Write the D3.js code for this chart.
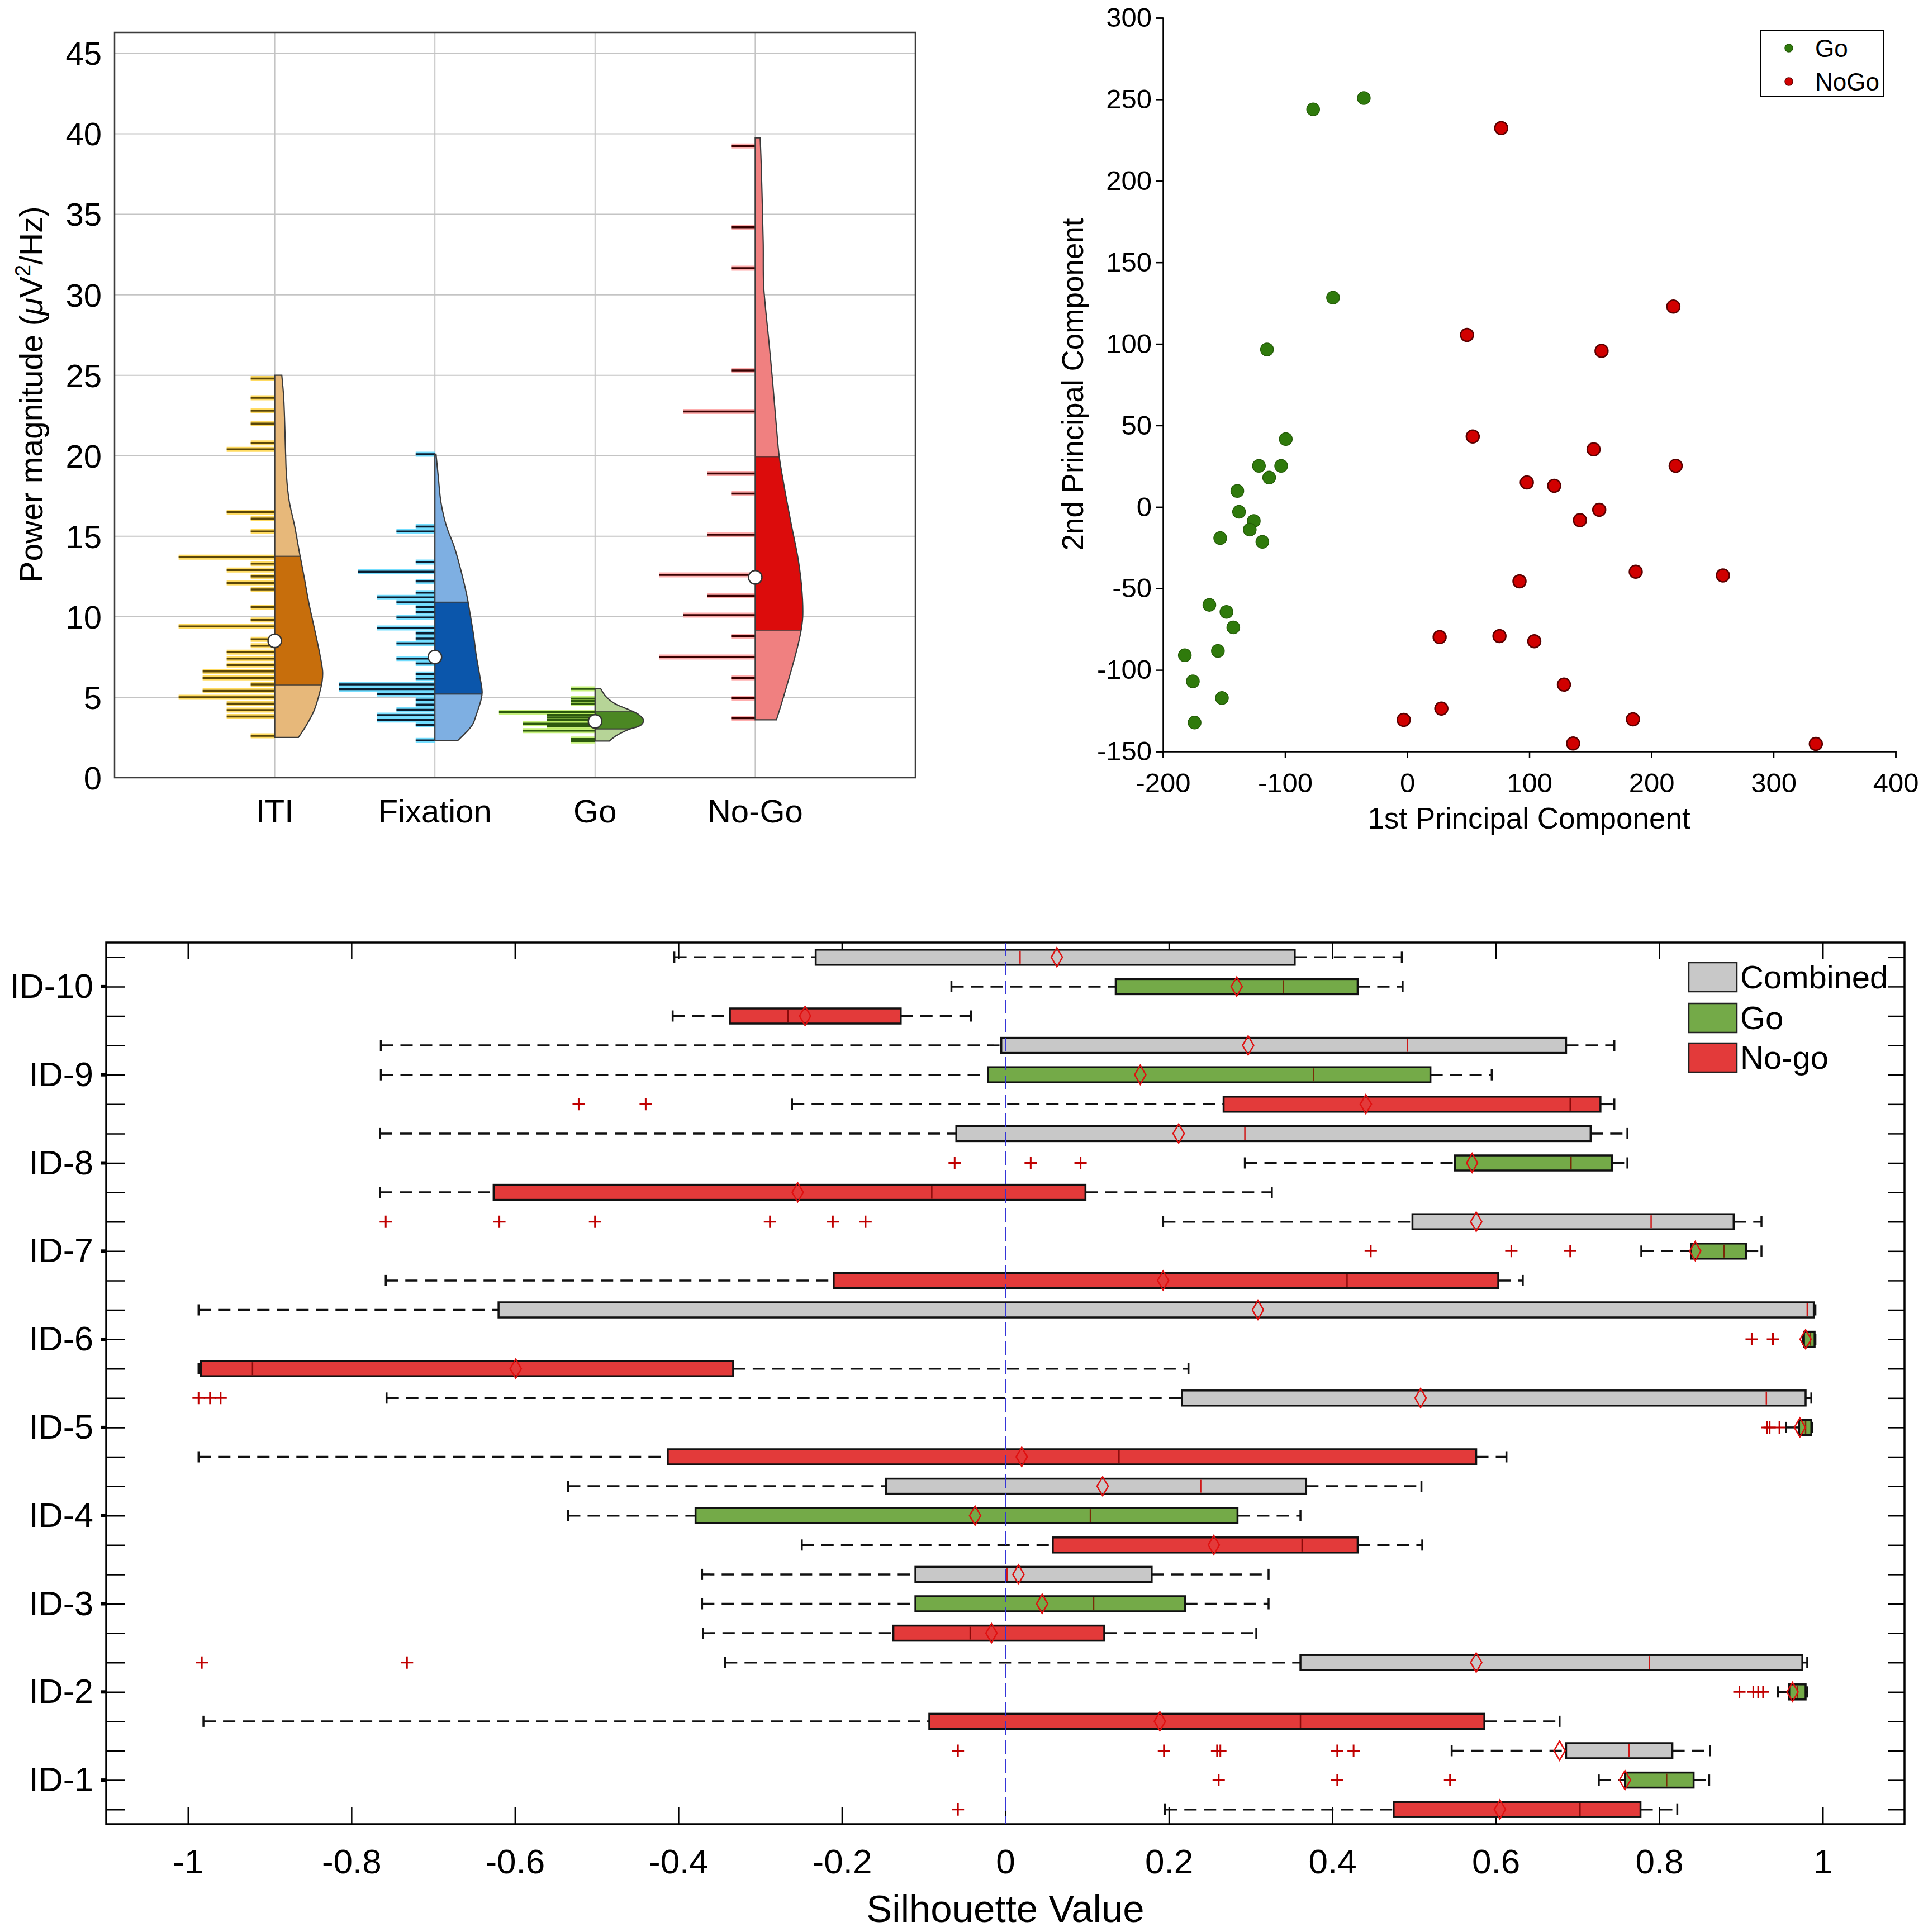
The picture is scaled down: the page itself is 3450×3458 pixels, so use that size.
<!DOCTYPE html>
<html>
<head>
<meta charset="utf-8">
<script src="https://cdn.jsdelivr.net/npm/d3@7"></script>
<style>
  body { margin: 0; background: #fff; }
  svg { display: block; }
  text { font-family: "Liberation Sans", Arial, sans-serif; fill: #000; }
</style>
</head>
<body>
<svg id="chart" width="3450" height="3458"></svg>
<script>
// ================= DATA =================
// --- Panel A: violin / rug plot ---
const violinCategories = ["ITI", "Fixation", "Go", "No-Go"];
const violinTicks = [0, 5, 10, 15, 20, 25, 30, 35, 40, 45];

const itiRugValues = [24.8,23.6,22.8,22.0,20.8,20.4,16.5,16.1,15.3,13.7,13.3,12.9,12.5,12.1,11.7,10.6,9.8,9.4,8.6,8.2,7.8,7.4,7.0,6.6,6.2,5.8,5.4,5.0,4.6,4.2,3.8,2.6];
const itiRugCounts = [1,1,1,1,1,2,2,1,1,4,1,2,1,2,1,1,1,4,1,1,2,2,2,3,3,1,3,4,2,2,2,1];
const itiDensityValues = [25.0,23.6,20.4,18.8,17.2,15.6,14.0,12.5,10.9,9.3,7.7,6.6,6.0,5.3,4.2,3.3,2.5];
const itiDensityWidths = [0.044,0.056,0.067,0.073,0.090,0.125,0.154,0.183,0.212,0.247,0.281,0.299,0.296,0.281,0.247,0.200,0.148];
const itiStats = [5.75, 8.5, 13.75]; // q1, median, q3

const fixRugValues = [20.1,15.6,15.3,13.4,12.8,12.2,11.5,11.2,10.9,10.6,10.3,9.95,9.3,8.96,8.64,8.35,7.4,7.1,6.45,6.15,5.8,5.5,5.2,4.84,4.54,4.22,3.89,3.58,3.28,2.32];
const fixRugCounts = [1,1,2,1,4,1,1,3,2,1,1,2,3,1,1,2,2,1,1,1,5,5,3,1,1,2,3,3,1,1];
const fixDensityValues = [20.1,18.7,17.1,15.6,14.4,13.2,11.3,10.1,8.9,7.6,6.4,5.3,4.8,3.9,3.3,2.3];
const fixDensityWidths = [0.007,0.021,0.038,0.073,0.119,0.154,0.200,0.221,0.241,0.258,0.279,0.295,0.287,0.258,0.235,0.142];
const fixStats = [5.2, 7.5, 10.9];

const goRugValues = [5.52,4.91,4.77,4.6,4.08,3.9,3.75,3.6,3.36,3.2,2.92,2.4,2.28];
const goRugCounts = [1,1,1,1,4,2,2,2,3,2,3,1,1];
const goDensityValues = [5.55,5.06,4.6,4.25,3.9,3.55,3.27,2.98,2.63,2.28];
const goDensityWidths = [0.034,0.066,0.124,0.205,0.275,0.303,0.286,0.205,0.135,0.089];
const goStats = [3.03, 3.5, 4.12];

const nogoRugValues = [39.25,34.2,31.65,25.3,22.75,18.9,17.65,15.1,12.6,11.3,10.1,8.8,7.5,6.2,4.95,3.7];
const nogoRugCounts = [1,1,1,1,3,2,1,2,4,2,3,1,4,1,1,1];
const nogoDensityValues = [39.75,38.2,35.7,33.2,30.7,29.2,26.95,24.45,21.95,19.95,18.2,15.7,13.7,11.95,10.1,9.3,8.2,5.7,3.6];
const nogoDensityWidths = [0.031,0.037,0.044,0.050,0.052,0.064,0.087,0.110,0.131,0.150,0.179,0.226,0.266,0.289,0.297,0.289,0.266,0.197,0.133];
const nogoStats = [9.15, 12.45, 19.95];

// --- Panel B: PCA scatter ---
const pcaXTicks = [-200, -100, 0, 100, 200, 300, 400];
const pcaYTicks = [-150, -100, -50, 0, 50, 100, 150, 200, 250, 300];
const goPC1 = [-77.0,-35.5,-60.7,-114.8,-99.4,-121.4,-103.2,-113.0,-139.1,-137.7,-125.6,-128.9,-118.6,-153.1,-162.0,-148.0,-142.4,-155.0,-182.1,-175.5,-151.7,-174.1];
const goPC2 = [243.9,250.8,128.4,96.6,41.6,25.2,25.2,18.0,9.8,-3.0,-8.6,-13.9,-21.4,-19.1,-60.1,-64.4,-73.9,-88.3,-91.0,-107.0,-117.2,-132.3];
const nogoPC1 = [77.0,49.0,218.0,159.2,53.7,152.7,219.9,98.0,120.4,141.5,157.3,92.0,187.2,258.6,26.6,75.6,104.1,128.4,28.0,-2.8,184.9,135.9,334.7];
const nogoPC2 = [232.4,105.5,122.9,95.7,43.2,35.3,25.2,15.0,13.0,-8.1,-1.8,-45.6,-39.7,-42.0,-79.8,-79.2,-82.4,-109.0,-123.7,-130.6,-130.3,-145.1,-145.4];
const pcaLegend = ["Go", "NoGo"];

// --- Panel C: silhouette box plots (index 0 = ID-1 ... 9 = ID-10) ---
const silIds = ["ID-1","ID-2","ID-3","ID-4","ID-5","ID-6","ID-7","ID-8","ID-9","ID-10"];
const silGroups = ["Combined", "Go", "No-go"];
const silXTicks = [-1,-0.8,-0.6,-0.4,-0.2,0,0.2,0.4,0.6,0.8,1];

const combLow  = [0.546,-0.343,-0.371,-0.535,-0.757,-0.987,0.193,-0.765,-0.764,-0.405];
const combQ1   = [0.686, 0.361,-0.110,-0.146, 0.216,-0.620,0.498,-0.060,-0.005,-0.232];
const combMed  = [0.763, 0.788, 0.002, 0.239, 0.931, 0.981,0.790, 0.293, 0.492, 0.018];
const combQ3   = [0.816, 0.975, 0.179, 0.368, 0.979, 0.989,0.891, 0.716, 0.686, 0.354];
const combHigh = [0.862, 0.981, 0.322, 0.509, 0.986, 0.991,0.925, 0.761, 0.745, 0.485];
const combMean = [0.678, 0.576, 0.016, 0.119, 0.508, 0.309,0.576, 0.212, 0.297, 0.063];
const combOut  = [[-0.058,0.194,0.259,0.263,0.406,0.426],[-0.983,-0.732],[],[],[-0.987,-0.973,-0.960],[],[-0.758,-0.619,-0.502,-0.288,-0.211,-0.171],[],[],[]];

const goLow  = [0.726,0.945,-0.371,-0.535,0.955,0.976,0.778,0.293,-0.764,-0.066];
const goQ1   = [0.758,0.959,-0.110,-0.379,0.971,0.977,0.839,0.550,-0.021, 0.135];
const goMed  = [0.809,0.969, 0.108, 0.104,0.979,0.985,0.879,0.692, 0.377, 0.340];
const goQ3   = [0.842,0.979, 0.220, 0.284,0.986,0.990,0.906,0.742, 0.520, 0.431];
const goHigh = [0.861,0.981, 0.322, 0.361,0.987,0.991,0.925,0.761, 0.595, 0.486];
const goMean = [0.758,0.963, 0.045,-0.037,0.972,0.979,0.844,0.571, 0.165, 0.283];
const goOut  = [[0.261,0.406,0.544],[0.898,0.915,0.921,0.927],[],[],[0.932,0.935,0.947],[0.913,0.939],[0.447,0.619,0.691],[-0.062,0.031,0.092],[],[]];

const nogoLow  = [0.195,-0.981,-0.370,-0.249,-0.987,-0.987,-0.758,-0.765,-0.261,-0.407];
const nogoQ1   = [0.475,-0.093,-0.137, 0.058,-0.413,-0.984,-0.210,-0.626, 0.267,-0.337];
const nogoMed  = [0.703, 0.361,-0.043, 0.363, 0.139,-0.921, 0.418,-0.090, 0.691,-0.266];
const nogoQ3   = [0.777, 0.586, 0.121, 0.431, 0.576,-0.333, 0.603, 0.098, 0.728,-0.128];
const nogoHigh = [0.822, 0.678, 0.307, 0.510, 0.613, 0.224, 0.633, 0.326, 0.745,-0.042];
const nogoMean = [0.605, 0.189,-0.017, 0.255, 0.020,-0.599, 0.193,-0.254, 0.441,-0.245];
const nogoOut  = [[-0.058],[],[],[],[],[],[],[],[-0.522,-0.440],[]];

// ================= DRAWING =================
const FONT = '"Liberation Sans", Arial, sans-serif';
const plainFmt = d => String(d);   // hyphen-minus as in the original
const svg = d3.select("#chart");
svg.append("rect").attr("width", 3450).attr("height", 3458).attr("fill", "#fff");

// ---------- Panel A ----------
(function panelA() {
  const g = svg.append("g");
  const x = d3.scaleLinear().domain([0, 5]).range([205, 1638]);
  const y = d3.scaleLinear().domain([0, 46.3]).range([1392, 58]);
  const unit = x(1) - x(0);

  g.selectAll("line.hg").data(violinTicks).join("line")
    .attr("x1", x(0)).attr("x2", x(5)).attr("y1", d => y(d)).attr("y2", d => y(d))
    .attr("stroke", "#c4c4c4").attr("stroke-width", 2);
  g.selectAll("line.vg").data(violinCategories).join("line")
    .attr("x1", (d, i) => x(i + 1)).attr("x2", (d, i) => x(i + 1))
    .attr("y1", y(0)).attr("y2", y(46.3))
    .attr("stroke", "#c4c4c4").attr("stroke-width", 2);

  g.append("rect").attr("x", x(0)).attr("y", y(46.3))
    .attr("width", x(5) - x(0)).attr("height", y(0) - y(46.3))
    .attr("fill", "none").attr("stroke", "#3c3c3c").attr("stroke-width", 2.5);

  const violins = [
    { rv: itiRugValues, rc: itiRugCounts, dv: itiDensityValues, dw: itiDensityWidths, st: itiStats },
    { rv: fixRugValues, rc: fixRugCounts, dv: fixDensityValues, dw: fixDensityWidths, st: fixStats },
    { rv: goRugValues, rc: goRugCounts, dv: goDensityValues, dw: goDensityWidths, st: goStats },
    { rv: nogoRugValues, rc: nogoRugCounts, dv: nogoDensityValues, dw: nogoDensityWidths, st: nogoStats }
  ];
  const styles = [
    { light: "#e7b87a", dark: "#c76e0c", halo: "#ffd23a", core: "#5a4608" },
    { light: "#7eafe2", dark: "#0b56ab", halo: "#52d6ff", core: "#0b1d30" },
    { light: "#b6d497", dark: "#4b8723", halo: "#b8ee5a", core: "#2c5a0e" },
    { light: "#f08080", dark: "#dc0c0c", halo: "#ff9a9a", core: "#3a0000" }
  ];

  violins.forEach((v, i) => {
    const cx = x(i + 1);
    const s = styles[i];
    const maxC = d3.max(v.rc);
    v.rv.forEach((val, k) => {
      const len = v.rc[k] / maxC * 0.6 * unit;
      g.append("line").attr("x1", cx - len).attr("x2", cx).attr("y1", y(val)).attr("y2", y(val))
        .attr("stroke", s.halo).attr("stroke-width", 9).attr("stroke-opacity", 0.8);
    });
    v.rv.forEach((val, k) => {
      const len = v.rc[k] / maxC * 0.6 * unit;
      g.append("line").attr("x1", cx - len).attr("x2", cx).attr("y1", y(val)).attr("y2", y(val))
        .attr("stroke", s.core).attr("stroke-width", 3.5);
    });

    const pts = v.dv.map((val, k) => ({ v: val, w: v.dw[k] })).sort((a, b) => a.v - b.v);
    const area = d3.area().curve(d3.curveCatmullRom.alpha(0.5))
      .y(d => y(d.v)).x0(cx).x1(d => cx + d.w * unit);
    const dPath = area(pts);
    const clipId = "vclip" + i;
    svg.append("defs").append("clipPath").attr("id", clipId).append("path").attr("d", dPath);
    g.append("path").attr("d", dPath).attr("fill", s.light);
    const band = g.append("g").attr("clip-path", `url(#${clipId})`);
    band.append("rect").attr("x", cx).attr("y", y(v.st[2]))
      .attr("width", 0.5 * unit).attr("height", y(v.st[0]) - y(v.st[2])).attr("fill", s.dark);
    [v.st[0], v.st[2]].forEach(q => {
      band.append("line").attr("x1", cx).attr("x2", cx + 0.5 * unit).attr("y1", y(q)).attr("y2", y(q))
        .attr("stroke", "#3a3a3a").attr("stroke-width", 2.5).attr("stroke-opacity", 0.7);
    });
    g.append("path").attr("d", dPath).attr("fill", "none")
      .attr("stroke", "#3a3a3a").attr("stroke-width", 2.2);
    g.append("circle").attr("cx", cx).attr("cy", y(v.st[1])).attr("r", 12)
      .attr("fill", "#fff").attr("stroke", "#333").attr("stroke-width", 2.5);
  });

  g.selectAll("text.yt").data(violinTicks).join("text")
    .attr("x", 182).attr("y", d => y(d)).attr("dy", "0.36em")
    .attr("text-anchor", "end").attr("font-size", 58).text(d => d);
  g.selectAll("text.xt").data(violinCategories).join("text")
    .attr("x", (d, i) => x(i + 1)).attr("y", 1472)
    .attr("text-anchor", "middle").attr("font-size", 58).text(d => d);

  const t = g.append("text").attr("transform", "translate(76,706) rotate(-90)")
    .attr("text-anchor", "middle").attr("font-size", 57);
  t.append("tspan").text("Power magnitude (");
  t.append("tspan").attr("font-style", "italic").text("\u03bc");
  t.append("tspan").text("V");
  t.append("tspan").attr("dy", -22).attr("font-size", 38).text("2");
  t.append("tspan").attr("dy", 22).text("/Hz)");
})();

// ---------- Panel B ----------
(function panelB() {
  const g = svg.append("g");
  const x = d3.scaleLinear().domain([-200, 400]).range([2081, 3392]);
  const y = d3.scaleLinear().domain([-150, 300]).range([1345, 32]);

  const xa = g.append("g").attr("transform", `translate(0,${y(-150)})`)
    .call(d3.axisBottom(x).tickValues(pcaXTicks).tickSize(12).tickPadding(26).tickFormat(plainFmt));
  const ya = g.append("g").attr("transform", `translate(${x(-200)},0)`)
    .call(d3.axisLeft(y).tickValues(pcaYTicks).tickSize(12).tickPadding(8).tickFormat(plainFmt));
  [xa, ya].forEach(a => {
    a.selectAll("path.domain").attr("stroke", "#000").attr("stroke-width", 2.5);
    a.selectAll(".tick line").attr("stroke", "#000").attr("stroke-width", 2.5);
    a.selectAll("text").attr("font-size", 49).attr("fill", "#000").attr("font-family", FONT);
  });

  const goPts = goPC1.map((v, i) => [v, goPC2[i]]);
  const noPts = nogoPC1.map((v, i) => [v, nogoPC2[i]]);
  g.selectAll("circle.go").data(goPts).join("circle")
    .attr("cx", d => x(d[0])).attr("cy", d => y(d[1])).attr("r", 11.5)
    .attr("fill", "#2f7a0c").attr("stroke", "#245c08").attr("stroke-width", 1.5);
  g.selectAll("circle.ng").data(noPts).join("circle")
    .attr("cx", d => x(d[0])).attr("cy", d => y(d[1])).attr("r", 11.5)
    .attr("fill", "#d10000").attr("stroke", "#5a0000").attr("stroke-width", 2.5);

  g.append("text").attr("x", 2736).attr("y", 1483).attr("text-anchor", "middle")
    .attr("font-size", 53).text("1st Principal Component");
  g.append("text").attr("transform", "translate(1938,688) rotate(-90)").attr("text-anchor", "middle")
    .attr("font-size", 53).text("2nd Principal Component");

  g.append("rect").attr("x", 3151).attr("y", 55).attr("width", 219).attr("height", 117)
    .attr("fill", "#fff").attr("stroke", "#000").attr("stroke-width", 2);
  const lc = [["#2f7a0c", "#245c08"], ["#d10000", "#5a0000"]];
  pcaLegend.forEach((name, i) => {
    const cy = 86 + i * 60;
    g.append("circle").attr("cx", 3201).attr("cy", cy).attr("r", 7)
      .attr("fill", lc[i][0]).attr("stroke", lc[i][1]).attr("stroke-width", 1.5);
    g.append("text").attr("x", 3248).attr("y", cy + 16).attr("font-size", 44).text(name);
  });
})();

// ---------- Panel C ----------
(function panelC() {
  const g = svg.append("g");
  const x = d3.scaleLinear().domain([-1.1, 1.1]).range([190, 3408]);
  const y = d3.scaleLinear().domain([0.5, 30.5]).range([3265, 1687]);
  const rows = d3.range(1, 31);

  g.append("rect").attr("x", x(-1.1)).attr("y", y(30.5))
    .attr("width", x(1.1) - x(-1.1)).attr("height", y(0.5) - y(30.5))
    .attr("fill", "none").attr("stroke", "#000").attr("stroke-width", 3.5);

  const tk = (sel) => sel.selectAll(".tick line").attr("stroke", "#000").attr("stroke-width", 2.5);
  const bottom = g.append("g").attr("transform", `translate(0,${y(0.5)})`)
    .call(d3.axisBottom(x).tickValues(silXTicks).tickSizeInner(-30).tickSizeOuter(0).tickPadding(44)
      .tickFormat(plainFmt));
  bottom.select("path.domain").remove();
  tk(bottom);
  bottom.selectAll("text").attr("font-size", 62).attr("fill", "#000").attr("font-family", FONT);
  const top = g.append("g").attr("transform", `translate(0,${y(30.5)})`)
    .call(d3.axisTop(x).tickValues(silXTicks).tickSizeInner(-30).tickSizeOuter(0).tickFormat(""));
  top.select("path.domain").remove(); tk(top);
  const left = g.append("g").attr("transform", `translate(${x(-1.1)},0)`)
    .call(d3.axisLeft(y).tickValues(rows).tickSizeInner(-33).tickSizeOuter(0).tickPadding(23)
      .tickFormat(d => (d % 3 === 2) ? silIds[(d - 2) / 3] : ""));
  left.select("path.domain").remove(); tk(left);
  left.selectAll("text").attr("font-size", 61).attr("fill", "#000").attr("font-family", FONT);
  const right = g.append("g").attr("transform", `translate(${x(1.1)},0)`)
    .call(d3.axisRight(y).tickValues(rows).tickSizeInner(-30).tickSizeOuter(0).tickFormat(""));
  right.select("path.domain").remove(); tk(right);
  g.selectAll("line.maj").data(silIds).join("line")
    .attr("x1", x(-1.1) - 9).attr("x2", x(-1.1)).attr("y1", (d, i) => y(3 * (i + 1) - 1)).attr("y2", (d, i) => y(3 * (i + 1) - 1))
    .attr("stroke", "#000").attr("stroke-width", 6);

  const groups = [
    { low: combLow, q1: combQ1, med: combMed, q3: combQ3, high: combHigh, mean: combMean, out: combOut, off: 0 },
    { low: goLow, q1: goQ1, med: goMed, q3: goQ3, high: goHigh, mean: goMean, out: goOut, off: 1 },
    { low: nogoLow, q1: nogoQ1, med: nogoMed, q3: nogoQ3, high: nogoHigh, mean: nogoMean, out: nogoOut, off: 2 }
  ];
  const gStyle = [
    { fill: "#c8c8c8", med: "#d01818" },
    { fill: "#74aa48", med: "#7a2a08" },
    { fill: "#e33a3a", med: "#8a0a0a" }
  ];
  const bh = 27, ch = 20;

  groups.forEach((gr, gi) => {
    const st = gStyle[gi];
    silIds.forEach((id, i) => {
      const cy = y(3 * (i + 1) - gr.off);
      [[gr.low[i], gr.q1[i]], [gr.q3[i], gr.high[i]]].forEach(([a, b]) => {
        if (x(b) - x(a) > 1) {
          g.append("line").attr("x1", x(a)).attr("x2", x(b)).attr("y1", cy).attr("y2", cy)
            .attr("stroke", "#111").attr("stroke-width", 3.5).attr("stroke-dasharray", "22,13");
        }
      });
      [gr.low[i], gr.high[i]].forEach(v => {
        g.append("line").attr("x1", x(v)).attr("x2", x(v)).attr("y1", cy - ch / 2).attr("y2", cy + ch / 2)
          .attr("stroke", "#111").attr("stroke-width", 3.5);
      });
      g.append("rect").attr("x", x(gr.q1[i])).attr("y", cy - bh / 2)
        .attr("width", Math.max(2, x(gr.q3[i]) - x(gr.q1[i]))).attr("height", bh)
        .attr("fill", st.fill).attr("stroke", "#111").attr("stroke-width", 3.5);
      g.append("line").attr("x1", x(gr.med[i])).attr("x2", x(gr.med[i]))
        .attr("y1", cy - bh / 2 + 2).attr("y2", cy + bh / 2 - 2)
        .attr("stroke", st.med).attr("stroke-width", 2.5);
      const mx = x(gr.mean[i]);
      g.append("path").attr("d", `M${mx},${cy - 17}L${mx + 10},${cy}L${mx},${cy + 17}L${mx - 10},${cy}Z`)
        .attr("fill", "none").attr("stroke", "#e01010").attr("stroke-width", 2.5);
      gr.out[i].forEach(v => {
        const ox = x(v);
        g.append("path").attr("d", `M${ox - 11},${cy}H${ox + 11}M${ox},${cy - 11}V${cy + 11}`)
          .attr("stroke", "#c00000").attr("stroke-width", 3);
      });
    });
  });

  g.append("line").attr("x1", x(0)).attr("x2", x(0)).attr("y1", y(30.5)).attr("y2", y(0.5))
    .attr("stroke", "#3535d8").attr("stroke-width", 2).attr("stroke-dasharray", "24,10");

  g.append("text").attr("x", x(0)).attr("y", 3440).attr("text-anchor", "middle")
    .attr("font-size", 69).text("Silhouette Value");

  const legFill = ["#c8c8c8", "#74aa48", "#e33a3a"];
  const legY = [1723, 1796, 1867];
  silGroups.forEach((name, i) => {
    g.append("rect").attr("x", 3022).attr("y", legY[i]).attr("width", 86).attr("height", 52)
      .attr("fill", legFill[i]).attr("stroke", "#222").attr("stroke-width", 2.5);
    g.append("text").attr("x", 3114).attr("y", legY[i] + 46).attr("font-size", 58).text(name);
  });
})();
</script>
</body>
</html>
